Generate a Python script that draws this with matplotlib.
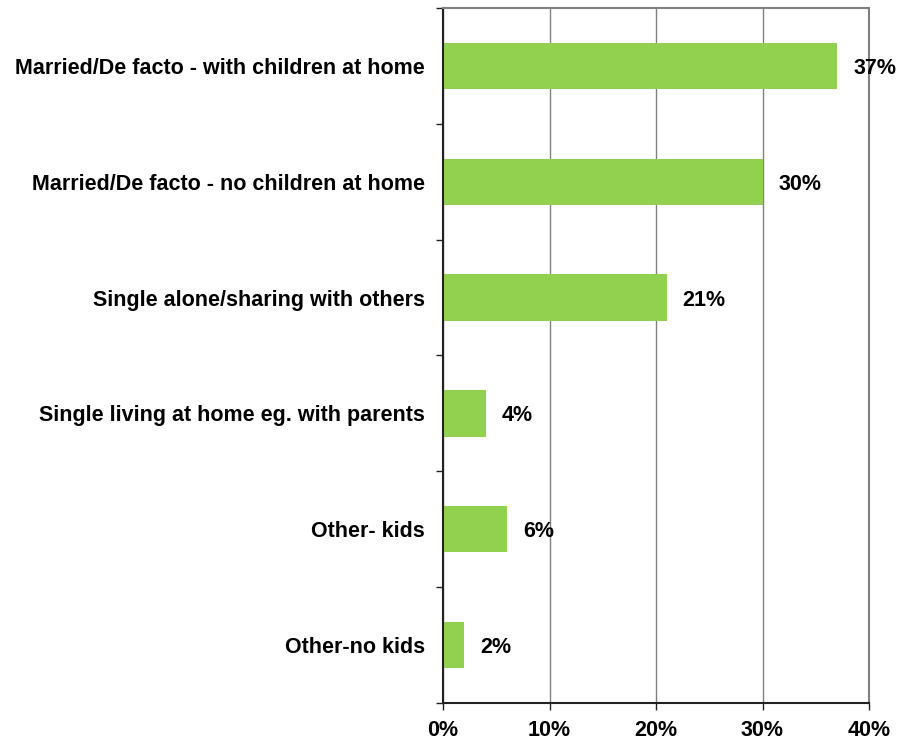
import matplotlib
matplotlib.use("Agg")
import matplotlib.pyplot as plt
from matplotlib.ticker import FixedLocator, PercentFormatter

categories = [
    "Married/De facto - with children at home",
    "Married/De facto - no children at home",
    "Single alone/sharing with others",
    "Single living at home eg. with parents",
    "Other- kids",
    "Other-no kids",
]
values = [37, 30, 21, 4, 6, 2]
x_ticks = [0, 10, 20, 30, 40]

plt.rcParams["font.family"] = ["Liberation Sans", "DejaVu Sans"]
plt.rcParams["font.weight"] = "bold"

fig = plt.figure(figsize=(9.14, 7.41), dpi=100)
ax = fig.add_axes([0.4847, 0.0513, 0.4661, 0.9379])

pos = list(range(len(categories)))
ax.barh(pos, values, height=0.4, color="#92D050", zorder=2)

for p, v in zip(pos, values):
    ax.text(v + 1.5, p, "%d%%" % v, va="center_baseline", ha="left",
            fontsize=15.5, fontweight="bold", zorder=3)

ax.set_xlim(0, 40)
ax.set_ylim(len(categories) - 0.5, -0.5)

ax.set_xticks(x_ticks)
ax.xaxis.set_major_formatter(PercentFormatter(decimals=0))
ax.set_yticks(pos)
ax.set_yticklabels(categories, va="center_baseline")
ax.yaxis.set_minor_locator(FixedLocator([i - 0.5 for i in range(len(categories) + 1)]))

ax.tick_params(axis="y", which="major", length=0, pad=13, labelsize=15.5)
ax.tick_params(axis="y", which="minor", length=5, width=1, color="#222222")
ax.tick_params(axis="x", length=5, width=1, color="#222222", pad=7, labelsize=15.5)

ax.grid(axis="x", color="#808080", linewidth=1, zorder=1)

for side in ("left", "bottom"):
    ax.spines[side].set_color("#222222")
    ax.spines[side].set_linewidth(1.5)
for side in ("top", "right"):
    ax.spines[side].set_color("#808080")
    ax.spines[side].set_linewidth(1.5)

fig.savefig("out.png", dpi=100)
